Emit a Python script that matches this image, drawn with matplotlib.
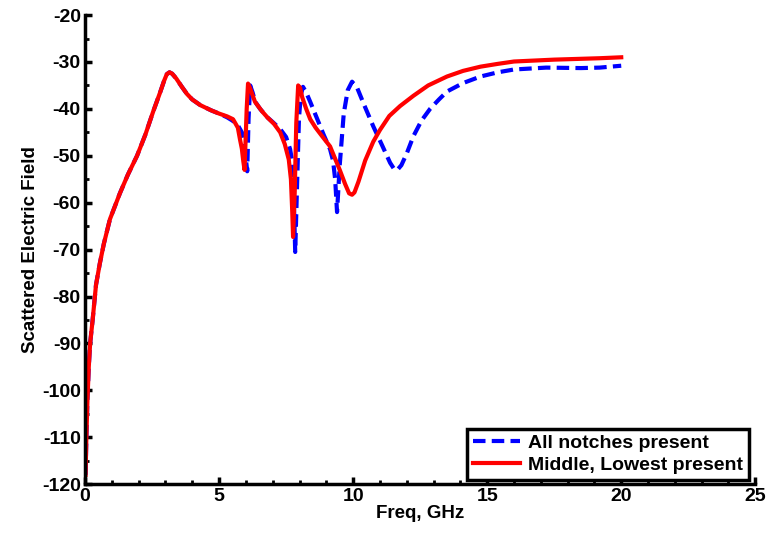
import matplotlib
matplotlib.use("Agg")
import matplotlib.pyplot as plt
from matplotlib.ticker import MultipleLocator

plt.rcParams["font.family"] = ["Liberation Sans", "DejaVu Sans"]
plt.rcParams["axes.unicode_minus"] = False

# frequency (GHz) / scattered field
f_all = [0.02, 0.05, 0.09, 0.14, 0.19, 0.28, 0.41, 0.55, 0.7, 0.93, 1.3, 1.6, 1.94, 2.25, 2.54,
         2.8, 2.95, 3.05, 3.15, 3.25, 3.4, 3.6, 3.8, 4.0, 4.3, 4.7, 5.0, 5.3, 5.5, 5.7, 5.85,
         5.95, 6.05, 6.1, 6.16, 6.25, 6.35, 6.53, 6.8, 7.0, 7.28, 7.5, 7.65, 7.72, 7.78, 7.84,
         7.9, 7.98, 8.05, 8.13, 8.25, 8.4, 8.65, 8.9, 9.14, 9.25, 9.33, 9.4, 9.5, 9.65, 9.8,
         9.96, 10.15, 10.4, 10.75, 11.1, 11.38, 11.55, 11.65, 11.8, 12.0, 12.25, 12.55, 12.87,
         13.2, 13.5, 14.1, 14.75, 15.4, 16.0, 17.2, 18.5, 19.2, 20.0]
v_all = [-118, -110, -102, -95, -90, -85.2, -77.5, -73, -68.8, -63.5, -58, -54, -50, -45.5, -40.6,
         -36.5, -34, -32.6, -32.2, -32.5, -33.5, -35.2, -36.8, -38, -39.2, -40.3, -41, -41.8, -42.5,
         -43.5, -45, -48, -53.3, -42, -35, -36.5, -38.5, -40, -41.8, -42.8, -44.3, -46, -48.6, -51,
         -58, -70.5, -58, -42, -37, -35.3, -36.5, -38.5, -42, -45.5, -48.6, -51, -55, -62, -52, -41,
         -36, -34.2, -35.5, -39, -43.7, -48, -51.5, -53, -53, -52, -49.5, -45.8, -42.5, -40, -38,
         -36.3, -34.5, -33.1, -32.2, -31.6, -31.2, -31.3, -31.2, -30.8]

f_mid = [0.02, 0.05, 0.09, 0.14, 0.19, 0.28, 0.41, 0.55, 0.7, 0.93, 1.3, 1.6, 1.94, 2.25, 2.54,
         2.8, 2.95, 3.05, 3.15, 3.25, 3.4, 3.6, 3.8, 4.0, 4.3, 4.7, 5.0, 5.3, 5.52, 5.7, 5.78,
         5.85, 5.9, 5.95, 6.03, 6.08, 6.15, 6.34, 6.6, 6.8, 7.05, 7.28, 7.45, 7.6, 7.68, 7.73, 7.76,
         7.82, 7.88, 7.95, 8.02, 8.1, 8.25, 8.4, 8.6, 8.8, 9.14, 9.5, 9.7, 9.85, 9.96, 10.05,
         10.2, 10.45, 10.75, 11.0, 11.35, 11.75, 12.25, 12.8, 13.5, 14.1, 14.75, 15.4, 16.0,
         17.5, 19.2, 20.0]
v_mid = [-118, -110, -102, -95, -90, -85.2, -77.5, -73, -68.8, -63.5, -58, -54, -50, -45.5, -40.6,
         -36.5, -34, -32.6, -32.2, -32.5, -33.5, -35.2, -36.8, -38, -39.2, -40.3, -41, -41.6, -42.2,
         -44, -46.5, -48.5, -51, -53, -40, -34.6, -35.5, -38.5, -40.5, -41.8, -43.2, -45, -47.5, -50.8,
         -55, -62, -67.3, -58, -43, -35, -35.5, -37.5, -40, -42.2, -44, -45.5, -48, -53, -56,
         -58, -58.3, -57.8, -55.5, -51, -47, -44.5, -41.5, -39.4, -37.2, -35, -33.1, -31.9, -31,
         -30.4, -29.9, -29.5, -29.2, -29]

labels = ["All notches present", "Middle, Lowest present"]

fig = plt.figure(figsize=(7.66, 5.38), dpi=100)
ax = fig.add_axes([0.111, 0.100, 0.875, 0.872])

ax.plot(f_all, v_all, color="#0000ff", lw=3, ls=(0, (3, 1.5)), label=labels[0])
ax.plot(f_mid, v_mid, color="#ff0000", lw=3, label=labels[1])

ax.set_xlim(0, 25)
ax.set_ylim(-120, -20)
ax.xaxis.set_major_locator(MultipleLocator(5))
ax.xaxis.set_minor_locator(MultipleLocator(1))
ax.yaxis.set_major_locator(MultipleLocator(10))
ax.yaxis.set_minor_locator(MultipleLocator(5))

for s in ["top", "right"]:
    ax.spines[s].set_visible(False)
for s in ["left", "bottom"]:
    ax.spines[s].set_linewidth(2.5)

ax.tick_params(which="major", direction="in", length=5, width=2.5, labelsize=14)
ax.tick_params(axis="x", which="major", pad=3)
ax.tick_params(axis="y", which="major", pad=3)
ax.tick_params(which="minor", direction="in", length=3, width=2)
for lab in ax.get_xticklabels() + ax.get_yticklabels():
    lab.set_fontweight("bold")

ax.set_xlabel("Freq, GHz", fontsize=13.5, fontweight="bold", labelpad=0)
ax.set_ylabel("Scattered Electric Field", fontsize=13.5, fontweight="bold", labelpad=2)

leg = ax.legend(loc="lower right", bbox_to_anchor=(0.99, 0.01), fancybox=False, framealpha=1,
                edgecolor="black", prop={"weight": "bold", "size": 14},
                handlelength=2.4, handletextpad=0.4, borderpad=0.3, labelspacing=0.2, borderaxespad=0)
leg.get_frame().set_linewidth(2.5)

fig.savefig("out.png", dpi=100)
